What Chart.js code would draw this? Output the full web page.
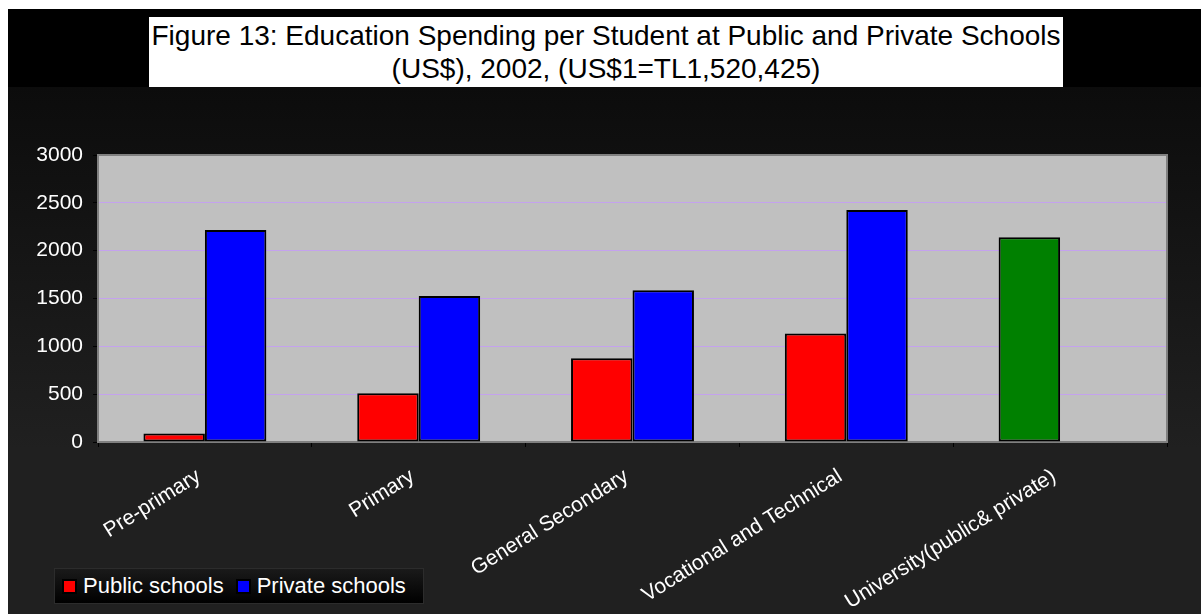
<!DOCTYPE html>
<html>
<head>
<meta charset="utf-8">
<script src="https://cdn.jsdelivr.net/npm/chart.js@4"></script>
<style>
  body { margin: 0; background: #fff; }
  #frame {
    position: absolute; left: 8px; top: 9px; width: 1193px; height: 605px;
    background: linear-gradient(to bottom, #000 0px, #000 78px, #0c0c0c 78px, #202020 440px, #202020 605px);
  }
  #title {
    position: absolute; left: 149px; top: 17px; width: 914px; height: 70px;
    background: #fff; color: #000; text-align: center;
    font: 28px "Liberation Sans", Arial, sans-serif; line-height: 33px; padding-top: 2px; box-sizing: border-box;
  }
  #legend {
    position: absolute; left: 54px; top: 568px; width: 370px; height: 36px; box-sizing: border-box;
    background: linear-gradient(to bottom, #1a1a1a, #000); border: 1px solid #2c2c2c;
    color: #fff; font: 22px "Liberation Sans", Arial, sans-serif; white-space: nowrap;
    padding-left: 7px; line-height: 34px;
  }
  #legend .sw {
    display: inline-block; width: 11px; height: 11px; border: 2px solid #000;
    vertical-align: -1px; margin-right: 6px;
  }
  #legend .item { margin-right: 12px; }
  #chart { position: absolute; left: 0; top: 0; }
</style>
</head>
<body>
<div id="frame"></div>
<div id="title">Figure 13: Education Spending per Student at Public and Private Schools<br>(US$), 2002, (US$1=TL1,520,425)</div>
<canvas id="chart" width="1201" height="614"></canvas>
<div id="legend"></div>
<script>
var categories = ['Pre-primary', 'Primary', 'General Secondary', 'Vocational and Technical', 'University(public& private)'];
// university figure covers both sectors, shown in its own colour
var publicSchools = [90, 510, 875, 1135, 2140];
var privateSchools = [2215, 1525, 1585, 2425, null];
var yTicks = [0, 500, 1000, 1500, 2000, 2500, 3000];

var publicColours = categories.map(function (c, i) {
    return i === categories.length - 1 ? '#008000' : '#ff0000';
});

var font = '"Liberation Sans", Arial, sans-serif';

var plotBox = {
    id: 'plotBox',
    beforeDraw: function (chart) {
        var a = chart.chartArea, ctx = chart.ctx;
        ctx.save();
        ctx.fillStyle = '#c0c0c0';
        ctx.fillRect(a.left, a.top, a.right - a.left, a.bottom - a.top);
        ctx.restore();
    },
    beforeDatasetsDraw: function (chart) {
        var a = chart.chartArea, ctx = chart.ctx;
        ctx.save();
        ctx.strokeStyle = '#808080';
        ctx.lineWidth = 2;
        ctx.strokeRect(a.left, a.top, a.right - a.left, a.bottom - a.top);
        ctx.restore();
    }
};

var ctx = document.getElementById('chart').getContext('2d');
var myChart = new Chart(ctx, {
    type: 'bar',
    data: {
        labels: categories,
        datasets: [{
            label: 'Public schools',
            data: publicSchools,
            backgroundColor: publicColours,
            borderColor: '#000',
            borderWidth: 2,
            borderSkipped: false
        }, {
            label: 'Private schools',
            data: privateSchools,
            backgroundColor: '#0000ff',
            borderColor: '#000',
            borderWidth: 2,
            borderSkipped: false
        }]
    },
    options: {
        responsive: false,
        animation: false,
        devicePixelRatio: 1,
        categoryPercentage: 0.575,
        barPercentage: 1,
        layout: { padding: { top: 155, right: 34, left: 0, bottom: 0 } },
        plugins: {
            legend: { display: false },
            title: { display: false },
            tooltip: { enabled: false }
        },
        scales: {
            x: {
                afterFit: function (s) { s.height = 172; },
                grid: {
                    drawOnChartArea: false,
                    drawTicks: true,
                    tickLength: 5,
                    tickColor: '#000',
                    offset: true
                },
                border: { display: false },
                ticks: {
                    color: '#fff',
                    font: { family: font, size: 21 },
                    maxRotation: 32,
                    minRotation: 32,
                    autoSkip: false,
                    padding: 17,
                    labelOffset: -6
                }
            },
            y: {
                min: 0,
                max: 3000,
                afterFit: function (s) { s.width = 98; },
                afterBuildTicks: function (s) {
                    s.ticks = yTicks.map(function (v) { return { value: v }; });
                },
                grid: {
                    color: function (c) {
                        return (c.tick && (c.tick.value === 0 || c.tick.value === 3000)) ? 'rgba(0,0,0,0)' : '#c4a2ee';
                    },
                    lineWidth: 1,
                    drawTicks: true,
                    tickLength: 5,
                    tickColor: '#000'
                },
                border: { display: false },
                ticks: {
                    color: '#fff',
                    font: { family: font, size: 21 },
                    padding: 10,
                    callback: function (v) { return String(v); }
                }
            }
        }
    },
    plugins: [plotBox]
});

// legend built from the datasets
var legend = document.getElementById('legend');
myChart.data.datasets.forEach(function (ds, i) {
    var sw = Array.isArray(ds.backgroundColor) ? ds.backgroundColor[0] : ds.backgroundColor;
    var item = document.createElement('span');
    item.className = 'item';
    item.innerHTML = '<span class="sw" style="background:' + sw + '"></span>' + ds.label;
    legend.appendChild(item);
});
</script>
</body>
</html>
